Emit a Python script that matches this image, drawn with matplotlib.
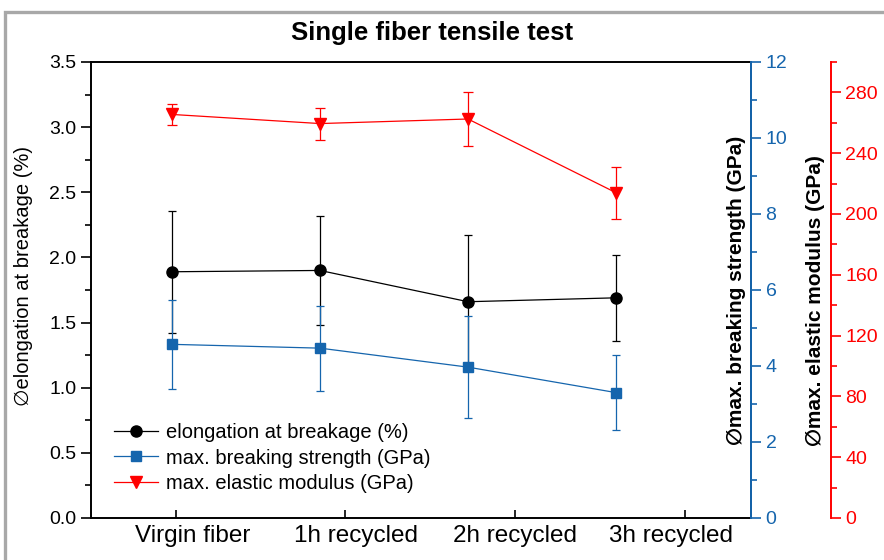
import numpy as np
import matplotlib.pyplot as plt
from matplotlib.lines import Line2D
from matplotlib.patches import Rectangle
from matplotlib.ticker import MultipleLocator

plt.rcParams['font.family'] = ['Liberation Sans', 'DejaVu Sans']

categories = ['Virgin fiber', '1h recycled', '2h recycled', '3h recycled']

elongation = [1.89, 1.90, 1.66, 1.69]
elongation_err = [0.47, 0.42, 0.51, 0.33]

strength = [4.57, 4.47, 3.97, 3.30]
strength_err = [1.18, 1.12, 1.35, 0.99]

modulus = [265.5, 259.5, 262.5, 214.0]
modulus_err = [7.0, 10.5, 18.0, 17.0]

# tick marks and their labels sit at their own spots on the category axis
tick_pos = [0.027, 1.169, 2.318, 3.466]
label_pos = [0.14, 1.24, 2.32, 3.37]

blue = '#1565ad'
red = '#ff0000'

fig = plt.figure(figsize=(8.84, 5.6), dpi=100)
fig.patches.append(Rectangle((5 / 884, -0.1), 1.2, (548 + 56) / 560,
                             transform=fig.transFigure, fill=False,
                             edgecolor='#a8a8a8', linewidth=2.4))

ax = fig.add_axes([91 / 884, 42 / 560, 660 / 884, 456 / 560])
ax2 = ax.twinx()
ax3 = ax.twinx()

x = np.arange(len(categories))

ax.errorbar(x, elongation, yerr=elongation_err, color='black', marker='o',
            markersize=8, linewidth=0.9, elinewidth=0.9, capsize=3, capthick=0.9)
ax2.errorbar(x, strength, yerr=strength_err, color=blue, marker='s',
             markersize=7, linewidth=0.9, elinewidth=0.9, capsize=3, capthick=0.9)
ax3.errorbar(x, modulus, yerr=modulus_err, color=red, marker='v',
             markersize=9, linewidth=0.9, elinewidth=0.9, capsize=3.5, capthick=0.9)

ax.set_xlim(-0.547, 3.912)
ax.set_xticks(tick_pos)
ax.set_xticklabels([])
ax.tick_params(axis='x', which='major', direction='in', length=6, width=1.2)
ax.set_xticks(label_pos, categories, minor=True)
ax.tick_params(axis='x', which='minor', length=0, labelsize=17.5, pad=5)

ax.set_ylim(0, 3.5)
ax.yaxis.set_major_locator(MultipleLocator(0.5))
ax.yaxis.set_minor_locator(MultipleLocator(0.25))
ax.yaxis.set_major_formatter(lambda v, p: f'{v:.1f}')
ax.tick_params(axis='y', which='major', direction='out', length=7, width=1.2, labelsize=14)
ax.tick_params(axis='y', which='minor', direction='out', length=4, width=1.2)
ax.set_ylabel('∅elongation at breakage (%)', fontsize=14.5)
ax.yaxis.set_label_coords(-0.088, 0.53)
for s in ax.spines.values():
    s.set_linewidth(1.4)

ax2.set_ylim(0, 12)
ax2.yaxis.set_major_locator(MultipleLocator(2))
ax2.yaxis.set_minor_locator(MultipleLocator(1))
ax2.tick_params(axis='y', which='major', direction='out', length=7, width=1.2,
                labelsize=14, colors=blue)
ax2.tick_params(axis='y', which='minor', direction='out', length=4, width=1.2, colors=blue)
ax2.spines['right'].set_color(blue)
ax2.spines['right'].set_linewidth(1.4)
ax2.set_ylabel('∅max. breaking strength (GPa)', fontsize=15, fontweight='bold')
ax2.yaxis.set_label_coords(0.963, 0.5)

ax3.set_ylim(0, 300)
ax3.spines['right'].set_position(('axes', 1.121))
ax3.yaxis.set_major_locator(MultipleLocator(40))
ax3.yaxis.set_minor_locator(MultipleLocator(20))
ax3.tick_params(axis='y', which='major', direction='out', length=7, width=1.2,
                labelsize=14, colors=red)
ax3.tick_params(axis='y', which='minor', direction='out', length=4, width=1.2, colors=red)
ax3.spines['right'].set_color(red)
ax3.spines['right'].set_linewidth(1.4)
ax3.set_ylabel('∅max. elastic modulus (GPa)', fontsize=15, fontweight='bold')
ax3.yaxis.set_label_coords(1.083, 0.476)
for a in (ax2, ax3):
    a.spines['top'].set_visible(False)
    a.spines['left'].set_visible(False)
    a.spines['bottom'].set_visible(False)

handles = [
    Line2D([], [], color='black', marker='o', markersize=8, linewidth=0.9),
    Line2D([], [], color=blue, marker='s', markersize=7, linewidth=0.9),
    Line2D([], [], color=red, marker='v', markersize=9, linewidth=0.9),
]
labels = ['elongation at breakage (%)', 'max. breaking strength (GPa)',
          'max. elastic modulus (GPa)']
ax3.legend(handles, labels, loc='lower left', bbox_to_anchor=(0.0136, 0.024),
           frameon=False, fontsize=14.5, handlelength=2.2, handletextpad=0.4,
           labelspacing=0.32, borderaxespad=0.3)

fig.text(432 / 884, 1 - 33 / 560, 'Single fiber tensile test', ha='center', va='center',
         fontsize=18.5, fontweight='bold')

fig.savefig('out.png', dpi=100)
